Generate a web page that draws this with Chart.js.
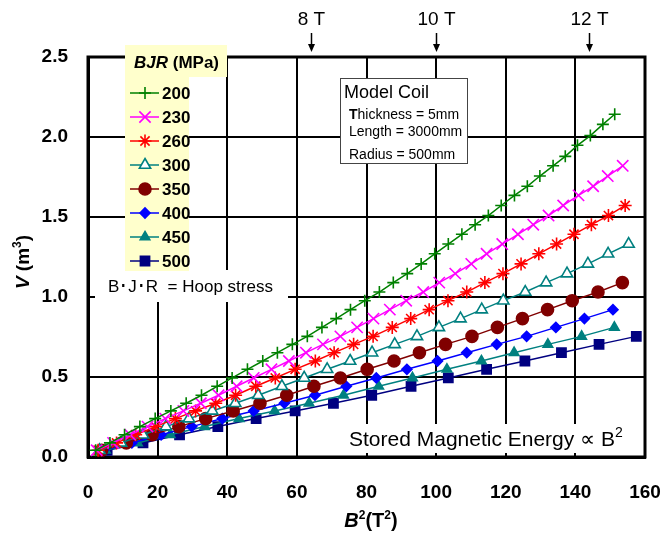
<!DOCTYPE html>
<html>
<head>
<meta charset="utf-8">
<script src="https://cdn.jsdelivr.net/npm/chart.js@4/dist/chart.umd.min.js"></script>
<style>
    html, body { margin: 0; padding: 0; background: #fff; }
    #c { display: block; }
</style>
</head>
<body>
<canvas id="c" width="670" height="538"></canvas>
<script>
/*---------------------------- data ----------------------------*/
// V (m3) levels shared by every BJR curve
var vLevels = [0.042, 0.088, 0.139, 0.19, 0.24, 0.288, 0.336, 0.386, 0.442, 0.494,
    0.548, 0.6, 0.652, 0.704, 0.754, 0.81, 0.865, 0.921, 0.977, 1.031,
    1.09, 1.146, 1.207, 1.27, 1.331, 1.392, 1.452, 1.509, 1.572, 1.635,
    1.692, 1.756, 1.82, 1.879, 1.948, 2.009, 2.079, 2.142];

// B^2 (T^2) of each marker, one list per BJR value
var b2_200 = [2.2, 6.3, 10.5, 14.9, 19.3, 23.8, 28.2, 32.6, 37.1, 41.4,
    45.8, 50.2, 54.4, 58.7, 63.0, 67.2, 71.3, 75.4, 79.5, 83.7,
    87.7, 91.7, 95.7, 99.6, 103.5, 107.4, 111.2, 115.0, 118.7, 122.5,
    126.2, 129.8, 133.6, 137.1, 140.6, 144.3, 147.9, 151.3];
var b2_230 = [2.5, 7.2, 12.1, 17.1, 22.2, 27.4, 32.4, 37.5, 42.7, 47.6,
    52.7, 57.7, 62.6, 67.5, 72.5, 77.3, 82.0, 86.7, 91.4, 96.3,
    100.9, 105.5, 110.1, 114.5, 119.0, 123.5, 127.9, 132.3, 136.5, 140.9,
    145.1, 149.3, 153.6];
var b2_260 = [2.9, 8.2, 13.7, 19.4, 25.1, 30.9, 36.7, 42.4, 48.2, 53.8,
    59.5, 65.3, 70.7, 76.3, 81.9, 87.4, 92.7, 98.0, 103.4, 108.8,
    114.0, 119.2, 124.4, 129.5, 134.6, 139.6, 144.6, 149.5, 154.3];
var b2_300 = [3.3, 9.5, 15.8, 22.4, 29.0, 35.7, 42.3, 48.9, 55.7, 62.1,
    68.7, 75.3, 81.6, 88.1, 94.5, 100.8, 107.0, 113.1, 119.3, 125.6,
    131.6, 137.6, 143.6, 149.4, 155.3];
var b2_350 = [3.9, 11.0, 18.4, 26.1, 33.8, 41.7, 49.4, 57.1, 64.9, 72.5,
    80.2, 87.9, 95.2, 102.7, 110.3, 117.6, 124.8, 132.0, 139.1, 146.5, 153.5];
var b2_400 = [4.4, 12.6, 21.0, 29.8, 38.6, 47.6, 56.4, 65.2, 74.2, 82.8,
    91.6, 100.4, 108.8, 117.4, 126.0, 134.4, 142.6, 150.8];
var b2_450 = [5.0, 14.2, 23.6, 33.5, 43.4, 53.6, 63.5, 73.4, 83.5, 93.2,
    103.1, 113.0, 122.4, 132.1, 141.8, 151.2];
var b2_500 = [5.5, 15.8, 26.3, 37.3, 48.3, 59.5, 70.5, 81.5, 92.8, 103.5,
    114.5, 125.5, 136.0, 146.8, 157.5];

var bjrNames = ['200', '230', '260', '300', '350', '400', '450', '500'];
var seriesB2 = [b2_200, b2_230, b2_260, b2_300, b2_350, b2_400, b2_450, b2_500];

// field markers on top of the plot
var fieldLabels = ['8 T', '10 T', '12 T'];
var fieldB2 = [64, 100, 144];

/*---------------------------- styles ----------------------------*/
var FONT = "'Liberation Sans', Arial, sans-serif";
var colors = ['#008000', '#ff00ff', '#ff0000', '#008080', '#800000', '#0000ff', '#008080', '#000080'];
var markers = [
    {style: 'cross', r: 6, fill: '#008000'},
    {style: 'crossRot', r: 8, fill: '#ff00ff'},
    {style: 'star', r: 6.5, fill: '#ff0000'},
    {style: 'triangle', r: 6.5, fill: '#ffffff'},
    {style: 'circle', r: 6, fill: '#800000'},
    {style: 'rectRot', r: 5, fill: '#0000ff'},
    {style: 'triangle', r: 5.5, fill: '#008080'},
    {style: 'rect', r: 6.5, fill: '#000080'}
];

var datasets = [];
for (var i = 0; i < seriesB2.length; i++) {
    var pts = [];
    for (var j = 0; j < seriesB2[i].length; j++) {
        pts.push({x: seriesB2[i][j], y: vLevels[j]});
    }
    datasets.push({
        label: bjrNames[i],
        data: pts,
        showLine: true,
        borderColor: colors[i],
        borderWidth: 1.5,
        pointStyle: markers[i].style,
        pointRadius: markers[i].r,
        pointBackgroundColor: markers[i].fill,
        pointBorderColor: colors[i],
        pointBorderWidth: 1.6,
        clip: false
    });
}

// draw text made of runs with different fonts / offsets
function drawRuns(ctx, parts, x, y, align) {
    var w = 0;
    parts.forEach(function (p) { ctx.font = p[1]; w += ctx.measureText(p[0]).width; });
    var cx = align === 'center' ? x - w / 2 : x;
    parts.forEach(function (p) {
        ctx.font = p[1];
        ctx.fillText(p[0], cx, y + (p[2] || 0));
        cx += ctx.measureText(p[0]).width;
    });
}

var decorPlugin = {
    id: 'decor',
    beforeDatasetsDraw: function (chart) {
        var ctx = chart.ctx, a = chart.chartArea;
        ctx.save();
        // plot frame
        ctx.strokeStyle = '#000';
        ctx.lineWidth = 3;
        ctx.strokeRect(a.left, a.top, a.right - a.left, a.bottom - a.top);

        // white note backgrounds
        ctx.fillStyle = '#fff';
        ctx.fillRect(95, 270, 193, 32);
        ctx.fillRect(343, 424, 290, 29);
        ctx.fillRect(340, 78, 127, 85);
        ctx.strokeStyle = '#444';
        ctx.lineWidth = 1;
        ctx.strokeRect(340.5, 78.5, 127, 85);

        ctx.fillStyle = '#000';
        ctx.textBaseline = 'alphabetic';
        ctx.textAlign = 'left';
        ctx.font = '18px ' + FONT;
        ctx.fillText('Model Coil', 344, 98);
        drawRuns(ctx, [['T', 'bold 14px ' + FONT], ['hickness = 5mm', '14px ' + FONT]], 349, 119, 'left');
        ctx.font = '14px ' + FONT;
        ctx.fillText('Length = 3000mm', 349, 136);
        ctx.fillText('Radius = 500mm', 349, 159);

        drawRuns(ctx, [['B\uFF65J\uFF65R', '17px ' + FONT], ['  = Hoop stress', '17px ' + FONT]], 108, 292, 'left');
        drawRuns(ctx, [['Stored Magnetic Energy \u221D B', '21px ' + FONT], ['2', '14px ' + FONT, -9]], 349, 446, 'left');

        // legend
        ctx.fillStyle = '#ffffcc';
        ctx.fillRect(125, 45, 102, 32);
        ctx.fillRect(125, 77, 64, 194);
        ctx.fillStyle = '#000';
        ctx.textBaseline = 'middle';
        drawRuns(ctx, [['BJR', 'italic bold 17px ' + FONT], [' (MPa)', 'bold 17px ' + FONT]], 134, 63, 'left');
        for (var k = 0; k < bjrNames.length; k++) {
            var ly = 93 + 24 * k;
            ctx.strokeStyle = colors[k];
            ctx.lineWidth = 1.5;
            ctx.beginPath();
            ctx.moveTo(130, ly);
            ctx.lineTo(159, ly);
            ctx.stroke();
            ctx.fillStyle = markers[k].fill;
            ctx.lineWidth = 1.6;
            Chart.helpers.drawPoint(ctx, {pointStyle: markers[k].style, radius: markers[k].r, rotation: 0, borderWidth: 1.6}, 145, ly);
            ctx.fillStyle = '#000';
            ctx.font = 'bold 17px ' + FONT;
            ctx.fillText(bjrNames[k], 162, ly + 1);
        }
        ctx.restore();
    },
    afterDraw: function (chart) {
        var ctx = chart.ctx, a = chart.chartArea, xs = chart.scales.x;
        ctx.save();
        ctx.fillStyle = '#000';
        ctx.strokeStyle = '#000';
        ctx.textBaseline = 'middle';
        // field strength arrows
        for (var i = 0; i < fieldLabels.length; i++) {
            var px = Math.round(xs.getPixelForValue(fieldB2[i])) + 0.5;
            ctx.font = '19px ' + FONT;
            ctx.textAlign = 'center';
            ctx.fillText(fieldLabels[i], px, 20);
            ctx.lineWidth = 1.5;
            ctx.beginPath();
            ctx.moveTo(px, 33);
            ctx.lineTo(px, 46);
            ctx.stroke();
            ctx.beginPath();
            ctx.moveTo(px - 3.5, 44);
            ctx.lineTo(px + 3.5, 44);
            ctx.lineTo(px, 52);
            ctx.closePath();
            ctx.fill();
        }
        // axis titles
        ctx.textAlign = 'left';
        ctx.textBaseline = 'alphabetic';
        drawRuns(ctx, [['B', 'italic bold 20px ' + FONT], ['2', 'bold 12px ' + FONT, -8],
            ['(T', 'bold 20px ' + FONT], ['2', 'bold 12px ' + FONT, -8], [')', 'bold 20px ' + FONT]],
            371, 527, 'center');
        ctx.translate(29, 262);
        ctx.rotate(-Math.PI / 2);
        drawRuns(ctx, [['V', 'italic bold 19px ' + FONT], [' (m', 'bold 19px ' + FONT],
            ['3', 'bold 12px ' + FONT, -8], [')', 'bold 19px ' + FONT]], 0, 0, 'center');
        ctx.restore();
    }
};

var ctx = document.getElementById('c').getContext('2d');
new Chart(ctx, {
    type: 'scatter',
    data: {datasets: datasets},
    options: {
        responsive: false,
        animation: false,
        devicePixelRatio: 1,
        layout: {padding: {top: 57, right: 25, left: 0, bottom: 0}},
        plugins: {legend: {display: false}, tooltip: {enabled: false}},
        scales: {
            x: {
                type: 'linear',
                min: 0, max: 160,
                afterFit: function (s) { s.height = 81; },
                // invisible tick marks push the labels down without widening the side padding
                ticks: {stepSize: 20, padding: 3, color: '#000', font: {family: FONT, size: 19, weight: 'bold'}},
                grid: {color: '#000', lineWidth: 2, drawTicks: true, tickLength: 21, tickColor: 'rgba(0,0,0,0)'},
                border: {color: '#000', width: 3}
            },
            y: {
                type: 'linear',
                min: 0, max: 2.5,
                afterFit: function (s) { s.width = 88; },
                ticks: {
                    stepSize: 0.5, padding: 20, color: '#000',
                    font: {family: FONT, size: 19, weight: 'bold'},
                    callback: function (v) { return v.toFixed(1); }
                },
                grid: {color: '#000', lineWidth: 2, drawTicks: false},
                border: {color: '#000', width: 3}
            }
        }
    },
    plugins: [decorPlugin]
});
</script>
</body>
</html>
